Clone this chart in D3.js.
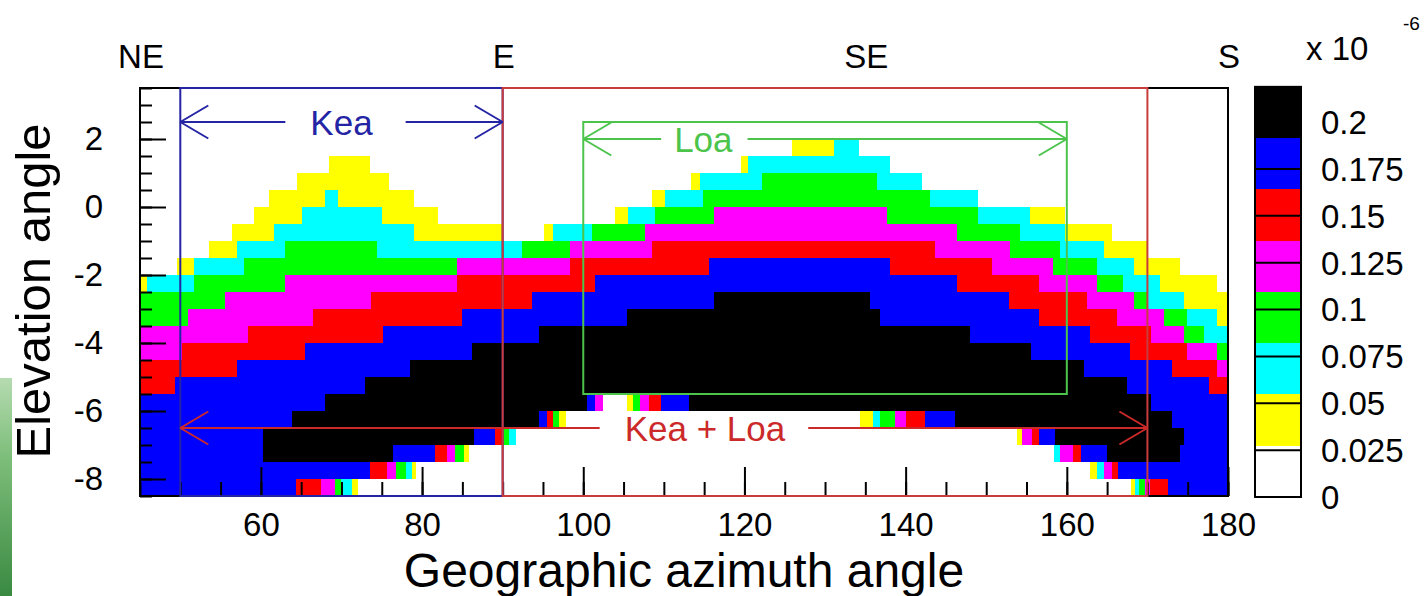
<!DOCTYPE html>
<html>
<head>
<meta charset="utf-8">
<script src="https://cdn.jsdelivr.net/npm/d3@7"></script>
<style>
  body { margin: 0; background: #ffffff; }
  svg { display: block; }
  text { font-family: "Liberation Sans", Arial, Helvetica, sans-serif; }
</style>
</head>
<body>
<svg id="chart" width="1424" height="596"></svg>
<script>
// Colour of each contour level (index 0 = below first contour)
const levelColors = ["#ffffff", "#ffff00", "#00ffff", "#00ff00", "#ff00ff", "#ff0000", "#0000ff", "#000000"];

// Elevation (deg) at the top of each 0.5-degree row of the map
const rowTops = [2, 1.5, 1, 0.5, 0, -0.5, -1, -1.5, -2, -2.5, -3, -3.5, -4, -4.5, -5, -5.5, -6, -6.5, -7, -7.5, -8];
const rowBin = 0.5;

// Runs along each row: [azimuth where the run starts, contour level]
const rowRuns = [
  [[45,0],[125.9,1],[131.1,2],[134.2,0]],
  [[45,0],[68.4,1],[73.6,0],[119.6,1],[120.4,2],[138.1,0]],
  [[45,0],[64.5,1],[75.9,0],[113.4,1],[114.5,2],[122.2,3],[136.4,2],[142.0,0]],
  [[45,0],[61.0,1],[68.0,2],[69.6,1],[79.0,0],[108.5,1],[110.2,2],[114.9,3],[143.0,2],[149.0,0]],
  [[45,0],[59.1,1],[65.1,2],[75.0,1],[82.0,0],[104.0,1],[105.6,2],[108.9,3],[116.2,4],[137.7,3],[149.0,2],[155.4,1],[159.8,0]],
  [[45,0],[56.4,1],[61.6,2],[79.0,1],[89.9,0],[95.1,1],[96.3,2],[101.1,3],[107.7,4],[146.4,3],[154.2,2],[159.8,1],[165.6,0]],
  [[45,0],[53.5,1],[57.0,2],[63.0,3],[74.4,2],[92.4,3],[98.4,4],[108.5,5],[143.7,4],[153.0,3],[159.2,2],[164.6,1],[169.9,0]],
  [[45,0],[49.6,1],[51.7,2],[57.9,3],[84.3,4],[98.4,5],[115.6,6],[138.1,5],[150.7,4],[158.3,3],[163.7,2],[168.3,1],[174.1,0]],
  [[45,1],[45.9,2],[51.7,3],[63.0,4],[84.3,5],[101.5,6],[146.4,5],[156.5,4],[163.7,3],[167.0,2],[171.6,1],[178.6,0]],
  [[45,3],[55.6,4],[73.7,5],[93.6,6],[116.2,7],[135.6,6],[152.8,5],[162.5,4],[168.3,3],[170.0,2],[174.5,1]],
  [[45,3],[51.0,4],[66.5,5],[85.0,6],[105.4,7],[136.8,6],[156.5,5],[166.2,4],[172.0,3],[174.9,2],[178.6,1]],
  [[45,4],[58.4,5],[75.2,6],[94.5,7],[148.0,6],[162.9,5],[170.4,4],[174.5,3],[177.0,2]],
  [[45,4],[50.2,5],[65.5,6],[86.2,7],[155.5,6],[167.9,5],[174.9,4],[178.6,3]],
  [[45,5],[57.0,6],[78.5,7],[162.1,6],[173.0,5],[178.6,4]],
  [[45,5],[49.3,6],[72.9,7],[167.5,6],[177.6,5]],
  [[45,6],[68.0,7],[100.5,6],[101.5,4],[102.4,0],[105.4,1],[106.2,3],[107.1,4],[108.1,5],[109.6,6],[113.1,7],[170.4,6]],
  [[45,6],[63.8,7],[94.5,6],[95.5,5],[96.3,3],[97.0,1],[97.8,0],[134.4,1],[136.0,2],[136.8,3],[138.7,4],[140.1,5],[142.4,6],[146.1,7],[173.0,6]],
  [[45,6],[60.3,7],[86.4,6],[89.1,5],[89.9,3],[90.8,2],[91.6,0],[153.8,1],[154.4,4],[155.7,5],[156.5,6],[158.5,7],[174.5,6]],
  [[45,6],[60.3,7],[76.4,6],[81.6,5],[83.1,4],[84.1,3],[85.2,1],[85.8,0],[158.4,2],[159.2,4],[160.8,5],[161.7,6],[165.0,7],[174.1,6]],
  [[45,6],[73.5,5],[75.6,4],[76.8,3],[78.0,2],[78.7,1],[79.3,0],[162.9,1],[163.7,2],[164.6,4],[165.6,5],[166.4,6]],
  [[45,6],[64.4,5],[67.5,4],[69.2,3],[70.0,2],[71.3,1],[72.1,0],[168.0,1],[168.4,2],[169.0,3],[169.7,4],[170.3,5],[172.6,6]]
];

// Axes
const azDomain = [45, 180];
const elDomain = [-8.5, 3.5];
const azMajor = [60, 80, 100, 120, 140, 160, 180];
const azMinor = d3.range(45, 181, 5);
const elMajor = [2, 0, -2, -4, -6, -8];
const elMinor = d3.range(-8.5, 3.51, 0.5);

// Compass directions along the top
const compassAz = [45, 90, 135, 180];
const compassNames = ["NE", "E", "SE", "S"];

// Colour scale (units of 1e-6)
const zMax = 0.21875;
const zTicks = [0, 0.025, 0.05, 0.075, 0.1, 0.125, 0.15, 0.175, 0.2];
const zTickLabels = ["0", "0.025", "0.05", "0.075", "0.1", "0.125", "0.15", "0.175", "0.2"];

// Telescope sky ranges: [az min, az max, el min, el max]
const keaBox = [50, 90, -8.5, 3.5];
const keaLoaBox = [90, 170, -8.5, 3.5];
const loaBox = [100, 160, -5.5, 2.5];
// Span arrows: [az start, az end, elevation, label azimuth]
const keaArrow = [50, 90, 2.5, 70];
const loaArrow = [100, 160, 2.0, 114.9];
const keaLoaArrow = [50, 170, -6.5, 115.1];

const svg = d3.select("#chart");

// Decorative strip at the left edge
const defs = svg.append("defs");
const grad = defs.append("linearGradient").attr("id", "edgeStrip")
  .attr("x1", 0).attr("y1", 0).attr("x2", 0).attr("y2", 1);
grad.append("stop").attr("offset", "0%").attr("stop-color", "#b5dbb0");
grad.append("stop").attr("offset", "35%").attr("stop-color", "#7fbf7c");
grad.append("stop").attr("offset", "100%").attr("stop-color", "#3a8a42");
svg.append("rect").attr("x", 0).attr("y", 378).attr("width", 12).attr("height", 218)
  .attr("fill", "url(#edgeStrip)");

const x = d3.scaleLinear().domain(azDomain).range([140, 1228]);
const y = d3.scaleLinear().domain(elDomain).range([496, 88]);

// Map cells
const cells = svg.append("g").attr("shape-rendering", "crispEdges");
rowTops.forEach((top, i) => {
  const runs = rowRuns[i];
  runs.forEach((r, j) => {
    if (r[1] === 0) return;
    const a0 = r[0];
    const a1 = j + 1 < runs.length ? runs[j + 1][0] : azDomain[1];
    cells.append("rect")
      .attr("x", x(a0))
      .attr("y", y(top))
      .attr("width", x(a1) - x(a0))
      .attr("height", y(top - rowBin) - y(top))
      .attr("fill", levelColors[r[1]]);
  });
});

// Frame
svg.append("rect")
  .attr("x", x(azDomain[0])).attr("y", y(elDomain[1]))
  .attr("width", x(azDomain[1]) - x(azDomain[0]))
  .attr("height", y(elDomain[0]) - y(elDomain[1]))
  .attr("fill", "none").attr("stroke", "#000").attr("stroke-width", 2);

// Ticks and tick labels
const fmt = d => String(d);
function styleAxis(g) {
  g.select(".domain").remove();
  g.selectAll("line").attr("stroke", "#000").attr("stroke-width", 2);
  g.selectAll("text").attr("fill", "#000").style("font-size", "33px")
    .style("font-family", "'Liberation Sans', Arial, Helvetica, sans-serif");
}
function minorOnly(g) {
  g.selectAll("text").remove();
}
svg.append("g").attr("transform", `translate(0,${y(elDomain[0])})`)
  .call(d3.axisBottom(x).tickValues(azMinor).tickSize(-14))
  .call(styleAxis).call(minorOnly);
svg.append("g").attr("transform", `translate(0,${y(elDomain[0])})`)
  .call(d3.axisBottom(x).tickValues(azMajor).tickSize(-29).tickPadding(17).tickFormat(fmt))
  .call(styleAxis);
svg.append("g").attr("transform", `translate(${x(azDomain[0])},0)`)
  .call(d3.axisLeft(y).tickValues(elMinor).tickSize(-12))
  .call(styleAxis).call(minorOnly);
svg.append("g").attr("transform", `translate(${x(azDomain[0])},0)`)
  .call(d3.axisLeft(y).tickValues(elMajor).tickSize(-26).tickPadding(37).tickFormat(fmt))
  .call(styleAxis);

// Axis titles
svg.append("text")
  .attr("x", 684).attr("y", 587)
  .attr("text-anchor", "middle")
  .style("font-size", "48px")
  .text("Geographic azimuth angle");
svg.append("text")
  .attr("transform", "translate(50,291) rotate(-90)")
  .attr("text-anchor", "middle")
  .style("font-size", "49px")
  .text("Elevation angle");

// Compass directions
svg.append("g").selectAll("text")
  .data(compassAz)
  .join("text")
  .attr("x", d => x(d) + 1)
  .attr("y", 68)
  .attr("text-anchor", "middle")
  .style("font-size", "33px")
  .text((d, i) => compassNames[i]);

// Range boxes
function box(b, color) {
  svg.append("rect")
    .attr("x", x(b[0])).attr("y", y(b[3]))
    .attr("width", x(b[1]) - x(b[0]))
    .attr("height", y(b[2]) - y(b[3]))
    .attr("fill", "none").attr("stroke", color).attr("stroke-width", 2);
}
box(keaBox, "#2424a4");
box(keaLoaBox, "#c83c3c");
box(loaBox, "#4cc44c");

// Double-headed span arrows with a centred label
function spanArrow(a, label, color, gapL, gapR) {
  const g = svg.append("g");
  const yy = y(a[2]);
  const x0 = x(a[0]), x1 = x(a[1]), xc = x(a[3]);
  const t = g.append("text")
    .attr("x", xc).attr("y", yy + 13)
    .attr("text-anchor", "middle")
    .attr("fill", color)
    .style("font-size", "35px")
    .text(label);
  const w = t.node().getComputedTextLength();
  const lines = [
    [x0, yy, xc - w / 2 - gapL, yy],
    [xc + w / 2 + gapR, yy, x1, yy],
    [x0, yy, x0 + 28, yy - 16.5], [x0, yy, x0 + 28, yy + 16.5],
    [x1, yy, x1 - 28, yy - 16.5], [x1, yy, x1 - 28, yy + 16.5]
  ];
  g.selectAll("line").data(lines).join("line")
    .attr("x1", d => d[0]).attr("y1", d => d[1])
    .attr("x2", d => d[2]).attr("y2", d => d[3])
    .attr("stroke", color).attr("stroke-width", 2);
}
spanArrow(keaArrow, "Kea", "#2424a4", 25, 33);
spanArrow(loaArrow, "Loa", "#4cc44c", 13, 15);
spanArrow(keaLoaArrow, "Kea + Loa", "#cc2a2a", 25, 23);

// Colour bar
const z = d3.scaleLinear().domain([0, 0.2]).range([497, 122]);
const barX = 1255, barW = 46;
const bands = d3.range(levelColors.length).map(k => [k * zMax / levelColors.length, (k + 1) * zMax / levelColors.length, k]);
svg.append("g").attr("shape-rendering", "crispEdges").selectAll("rect")
  .data(bands).join("rect")
  .attr("x", barX).attr("width", barW)
  .attr("y", d => z(d[1]))
  .attr("height", d => z(d[0]) - z(d[1]))
  .attr("fill", d => levelColors[d[2]]);
svg.append("g").selectAll("line")
  .data(zTicks).join("line")
  .attr("x1", barX).attr("x2", barX + barW)
  .attr("y1", d => z(d)).attr("y2", d => z(d))
  .attr("stroke", "#000").attr("stroke-width", 2);
svg.append("rect")
  .attr("x", barX).attr("y", z(zMax))
  .attr("width", barW).attr("height", z(0) - z(zMax))
  .attr("fill", "none").attr("stroke", "#000").attr("stroke-width", 2);
svg.append("g").selectAll("text")
  .data(zTicks).join("text")
  .attr("x", 1321)
  .attr("y", d => z(d))
  .attr("dy", "0.36em")
  .style("font-size", "33px")
  .text((d, i) => zTickLabels[i]);
svg.append("text").attr("x", 1306).attr("y", 60).style("font-size", "33px").text("x 10");
svg.append("text").attr("x", 1403).attr("y", 30).style("font-size", "19px").text("-6");
</script>
</body>
</html>
